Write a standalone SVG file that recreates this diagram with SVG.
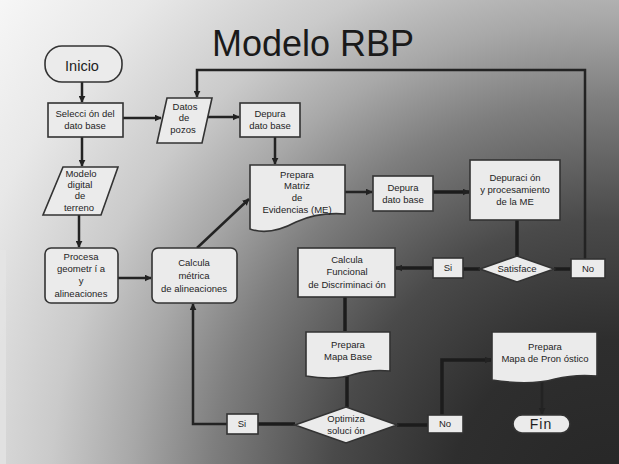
<svg xmlns="http://www.w3.org/2000/svg" width="619" height="464" viewBox="0 0 619 464">
<defs>
<radialGradient id="bg" gradientUnits="userSpaceOnUse" cx="610" cy="500" r="800">
<stop offset="0" stop-color="#262626"/>
<stop offset="0.2" stop-color="#2e2e2e"/>
<stop offset="0.35" stop-color="#4a4a4a"/>
<stop offset="0.5" stop-color="#7e7e7e"/>
<stop offset="0.6" stop-color="#a8a8a8"/>
<stop offset="0.7" stop-color="#cacaca"/>
<stop offset="0.85" stop-color="#e8e8e8"/>
<stop offset="1" stop-color="#f8f8f8"/>
</radialGradient>
<marker id="ah" viewBox="0 0 10 10" refX="9" refY="5" markerWidth="7" markerHeight="7" markerUnits="userSpaceOnUse" orient="auto">
<path d="M0,0 L10,5 L0,10 Z" fill="#222"/>
</marker>
<style>
.n{fill:#ebebeb;stroke:#333;stroke-width:1.6}
.t{font-family:"Liberation Sans",Arial,sans-serif;font-size:9.5px;fill:#1e1e1e;text-anchor:middle}
.c{fill:none;stroke:#232323;stroke-width:2.5}
.k{fill:none;stroke:#1c1c1c;stroke-width:3.5}
</style>
</defs>
<rect x="0" y="0" width="619" height="464" fill="url(#bg)"/>
<rect x="0" y="250" width="6" height="214" fill="#e6e6e6" opacity="0.7"/>
<text x="313" y="56" font-family="Liberation Sans,Arial,sans-serif" font-size="36" fill="#1a1a1a" text-anchor="middle">Modelo RBP</text>

<g id="connectors">
<path class="c" d="M82,82 V102" marker-end="url(#ah)"/>
<path class="c" d="M123,118 H161" marker-end="url(#ah)"/>
<path class="c" d="M208,117 H239" marker-end="url(#ah)"/>
<path class="c" d="M275,137 V164" marker-end="url(#ah)"/>
<path class="c" d="M82,137 V166" marker-end="url(#ah)"/>
<path class="c" d="M79,215 V247" marker-end="url(#ah)"/>
<path class="c" d="M118,278 H151" marker-end="url(#ah)"/>
<path class="c" d="M197,248 L249,199" marker-end="url(#ah)"/>
<path class="c" d="M345,192 H372" marker-end="url(#ah)"/>
<path class="k" d="M433,192 H469" marker-end="url(#ah)"/>
<path class="k" d="M517,220 V256"/>
<path class="k" d="M554,269 H571"/>
<path class="c" d="M585,259 V70 H197 V97" marker-end="url(#ah)"/>
<path class="k" d="M480,269 H463"/>
<path class="k" d="M433,268 H396" marker-end="url(#ah)"/>
<path class="k" d="M345,297 V331"/>
<path class="k" d="M347,376 V407"/>
<path class="k" d="M397,425 H428"/>
<path class="k" d="M442,415 V360 H491" marker-end="url(#ah)"/>
<path class="c" d="M542,380 V414" marker-end="url(#ah)"/>
<path class="k" d="M295,424 H258"/>
<path class="c" d="M227,424 H193 V304" marker-end="url(#ah)"/>
</g>

<g id="inicio">
<rect class="n" x="45" y="46" width="77" height="36" rx="17"/>
<text class="t" x="82" y="71" style="font-size:14.5px">Inicio</text>
</g>
<g id="seleccion">
<rect class="n" x="48" y="103" width="75" height="34"/>
<text class="t" x="85" y="117">Selecci ón del</text>
<text class="t" x="85" y="129">dato base</text>
</g>
<g id="datos">
<polygon class="n" points="167,98 212,98 202,143 157,143"/>
<text class="t" x="185" y="110">Datos</text>
<text class="t" x="184" y="121">de</text>
<text class="t" x="183" y="133">pozos</text>
</g>
<g id="depura1">
<rect class="n" x="240" y="103" width="60" height="34"/>
<text class="t" x="270" y="117">Depura</text>
<text class="t" x="270" y="129">dato base</text>
</g>
<g id="modelo">
<polygon class="n" points="63,167 118,167 101,215 43,215"/>
<text class="t" x="81" y="177">Modelo</text>
<text class="t" x="80" y="188">digital</text>
<text class="t" x="80" y="199">de</text>
<text class="t" x="79" y="211">terreno</text>
</g>
<g id="procesa">
<rect class="n" x="45" y="248" width="73" height="55" rx="6"/>
<text class="t" x="81" y="260">Procesa</text>
<text class="t" x="81" y="272">geometr í a</text>
<text class="t" x="81" y="284">y</text>
<text class="t" x="81" y="297">alineaciones</text>
</g>
<g id="calcula-metrica">
<rect class="n" x="152" y="248" width="85" height="55" rx="6"/>
<text class="t" x="194" y="266">Calcula</text>
<text class="t" x="194" y="279">métrica</text>
<text class="t" x="194" y="292">de alineaciones</text>
</g>
<g id="prepara-matriz">
<path class="n" d="M250,165 H345 V214 Q318,212 296,222 Q270,236 250,229 Z"/>
<text class="t" x="297" y="178">Prepara</text>
<text class="t" x="297" y="189">Matriz</text>
<text class="t" x="297" y="201">de</text>
<text class="t" x="297" y="213">Evidencias (ME)</text>
</g>
<g id="depura2">
<rect class="n" x="373" y="176" width="60" height="35"/>
<text class="t" x="403" y="191">Depura</text>
<text class="t" x="403" y="203">dato base</text>
</g>
<g id="depuracion">
<rect class="n" x="470" y="160" width="90" height="60"/>
<text class="t" x="515" y="181">Depuraci ón</text>
<text class="t" x="515" y="193">y procesamiento</text>
<text class="t" x="515" y="205">de la ME</text>
</g>
<g id="satisface">
<polygon class="n" points="480,269 517,256 554,269 517,282"/>
<text class="t" x="517" y="272">Satisface</text>
</g>
<g id="no1">
<rect class="n" x="571" y="259" width="34" height="19"/>
<text class="t" x="588" y="272">No</text>
</g>
<g id="si1">
<rect class="n" x="433" y="258" width="30" height="20"/>
<text class="t" x="448" y="271">Si</text>
</g>
<g id="calcula-funcional">
<rect class="n" x="298" y="248" width="97" height="49"/>
<text class="t" x="347" y="263">Calcula</text>
<text class="t" x="347" y="275">Funcional</text>
<text class="t" x="347" y="288">de Discriminaci ón</text>
</g>
<g id="mapa-base">
<path class="n" d="M306,332 H390 V371 Q372,369 355,374 Q335,381 306,376 Z"/>
<text class="t" x="348" y="348">Prepara</text>
<text class="t" x="348" y="360">Mapa Base</text>
</g>
<g id="optimiza">
<polygon class="n" points="295,425 346,407 397,425 346,443"/>
<text class="t" x="346" y="422">Optimiza</text>
<text class="t" x="346" y="434">soluci ón</text>
</g>
<g id="no2">
<rect class="n" x="428" y="415" width="35" height="18"/>
<text class="t" x="445" y="427">No</text>
</g>
<g id="si2">
<rect class="n" x="227" y="414" width="31" height="20"/>
<text class="t" x="242" y="427">Si</text>
</g>
<g id="mapa-pronostico">
<path class="n" d="M492,332 H597 V376 Q575,374 555,379 Q530,386 492,380 Z"/>
<text class="t" x="545" y="350">Prepara</text>
<text class="t" x="545" y="362">Mapa de Pron óstico</text>
</g>
<g id="fin">
<rect class="n" x="513" y="415" width="57" height="18" rx="9"/>
<text class="t" x="541" y="429" style="font-size:14px;letter-spacing:1px">Fin</text>
</g>
</svg>
